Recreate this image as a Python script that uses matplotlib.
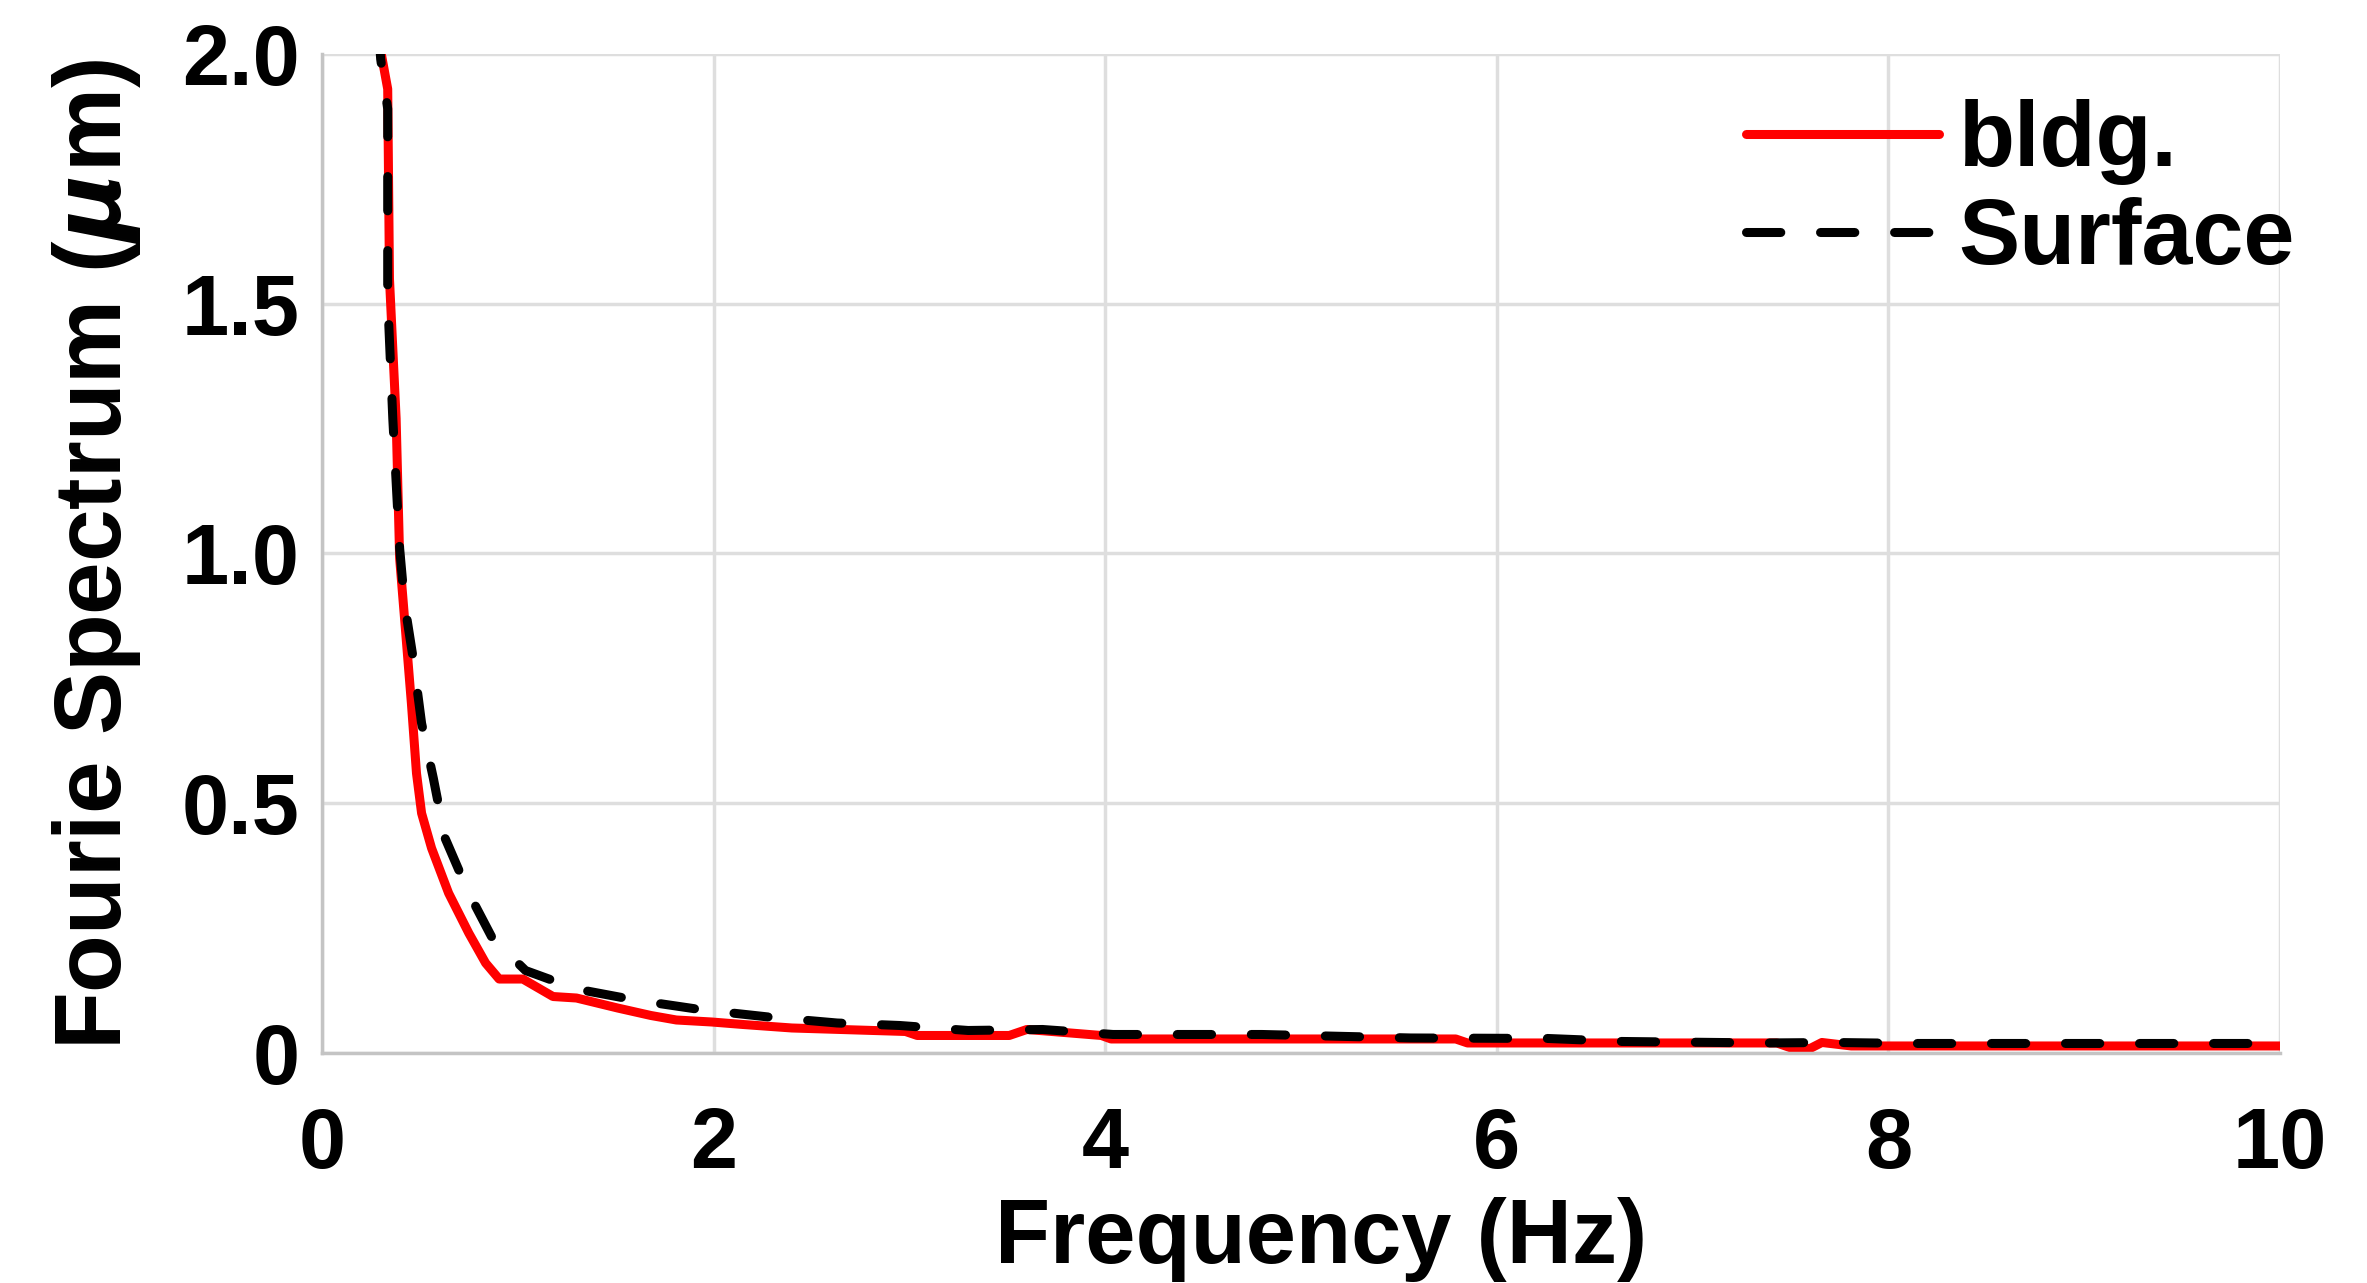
import matplotlib
matplotlib.use("Agg")
import matplotlib.pyplot as plt

freq_bldg = [0.28, 0.336, 0.345, 0.379, 0.397, 0.422, 0.457, 0.483, 0.509, 0.56,
             0.647, 0.75, 0.836, 0.905, 1.026, 1.18, 1.30, 1.51, 1.68, 1.81,
             1.99, 2.15, 2.40, 2.98, 3.04, 3.51, 3.60, 3.98, 4.03, 5.79,
             5.85, 7.43, 7.51, 7.60, 7.66, 7.81, 10.0]
amp_bldg = [2.05, 1.93, 1.55, 1.27, 0.99, 0.87, 0.70, 0.56, 0.48, 0.41,
            0.32, 0.24, 0.18, 0.148, 0.148, 0.113, 0.110, 0.090, 0.075, 0.066,
            0.062, 0.057, 0.050, 0.043, 0.035, 0.035, 0.047, 0.035, 0.028, 0.028,
            0.020, 0.020, 0.009, 0.009, 0.021, 0.014, 0.014]

freq_surf = [0.29, 0.30, 0.336, 0.336, 0.362, 0.397, 0.422, 0.466, 0.509, 0.569,
             0.629, 0.75, 0.87, 1.04, 1.30, 1.60, 1.93, 2.28, 2.63, 2.95,
             3.30, 3.68, 4.04, 4.80, 5.56, 6.26, 6.64, 7.37, 7.72, 8.13, 10.0]
amp_surf = [2.05, 1.99, 1.89, 1.51, 1.27, 1.01, 0.90, 0.79, 0.66, 0.55,
            0.43, 0.32, 0.23, 0.165, 0.128, 0.106, 0.087, 0.072, 0.060, 0.055,
            0.045, 0.047, 0.037, 0.037, 0.030, 0.029, 0.023, 0.020, 0.021, 0.019, 0.019]

xticks = [0, 2, 4, 6, 8, 10]
yticks = [0, 0.5, 1.0, 1.5, 2.0]
ytick_labels = ["0", "0.5", "1.0", "1.5", "2.0"]

plt.rcParams['font.family'] = ['Liberation Sans', 'DejaVu Sans']
plt.rcParams['font.weight'] = 'bold'
plt.rcParams['mathtext.default'] = 'it'

fig = plt.figure(figsize=(23.67, 12.83), dpi=100)
ax = fig.add_axes([0.1360, 0.1793, 0.9633 - 0.1360, 0.9579 - 0.1793])

ax.plot(freq_bldg, amp_bldg, color="#ff0000", lw=6.5, label="bldg.",
        solid_joinstyle="round", solid_capstyle="round")
ax.plot(freq_surf, amp_surf, color="black", lw=6.5, label="Surface",
        dashes=(3.8, 4.4), dash_capstyle="round")

ax.set_xlim(0, 10)
ax.set_ylim(0, 2.0)
ax.set_xticks(xticks)
ax.set_yticks(yticks)
ax.set_yticklabels(ytick_labels)
ax.grid(True, color="#dedede", lw=2.5)
ax.set_axisbelow(True)
for s in ["top", "right"]:
    ax.spines[s].set_visible(False)
for s in ["left", "bottom"]:
    ax.spines[s].set_color("#c4c4c4")
    ax.spines[s].set_linewidth(2.5)

ax.tick_params(axis="both", length=0, labelsize=61)
ax.tick_params(axis="x", pad=38)
ax.tick_params(axis="y", pad=16)

ax.set_xlabel("Frequency (Hz)", fontsize=65, fontweight="bold")
ax.xaxis.set_label_coords(0.510, -0.144)
ax.set_ylabel(r"Fourie Spectrum ($\mu$m)", fontsize=68, fontweight="bold")
ax.yaxis.set_label_coords(-0.0915, 0.499)

leg = ax.legend(loc="upper left", bbox_to_anchor=(1746 / 2367, 1 - 99 / 1283),
                bbox_transform=fig.transFigure, frameon=False,
                prop={"size": 66, "weight": "bold"},
                borderpad=0, borderaxespad=0, handlelength=2.1,
                handletextpad=0.22, labelspacing=0.13)

fig.savefig("out.png", dpi=100)
